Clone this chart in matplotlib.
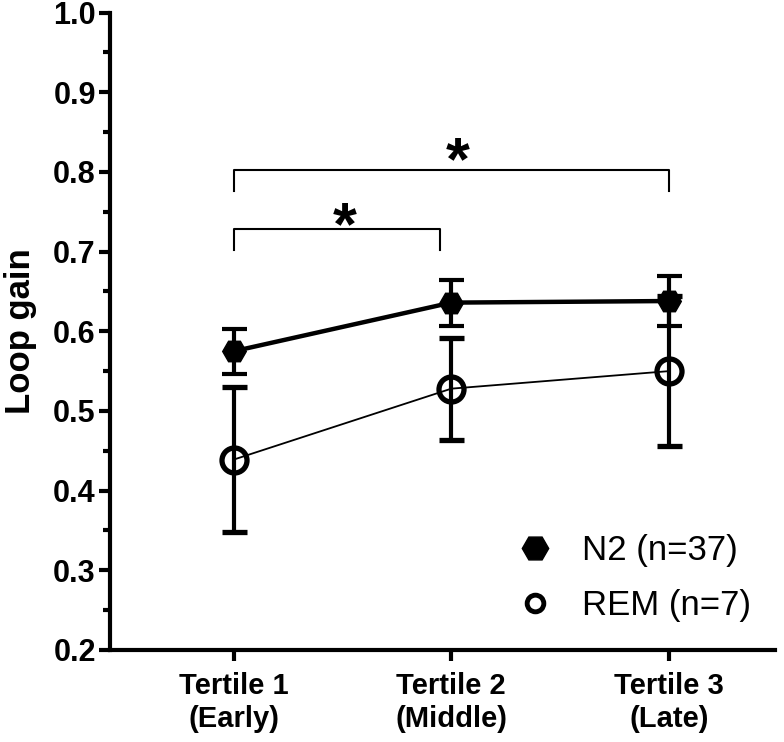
"""Loop gain across sleep tertiles, N2 vs REM."""
import numpy as np
import matplotlib.pyplot as plt
import matplotlib as mpl
from matplotlib.lines import Line2D

# data
tertiles = ['Tertile 1\n(Early)', 'Tertile 2\n(Middle)', 'Tertile 3\n(Late)']
n2_mean = [0.575, 0.636, 0.638]
n2_err = [0.028, 0.029, 0.031]
rem_mean = [0.439, 0.528, 0.550]
rem_err = [0.091, 0.064, 0.094]
n2_label = 'N2 (n=37)'
rem_label = 'REM (n=7)'

mpl.rcParams.update({
    'font.family': ['Liberation Sans', 'DejaVu Sans'],
    'axes.linewidth': 3.0,
    'axes.spines.right': False,
    'axes.spines.top': False,
})

fig = plt.figure(figsize=(7.84, 7.42), dpi=100)
ax = fig.add_axes([0.140, 0.124, 0.849, 0.859])

x = np.arange(len(tertiles))

ax.errorbar(x, n2_mean, yerr=n2_err, color='black', lw=3.2,
            elinewidth=3, capsize=9, capthick=3,
            marker='H', ms=17, mfc='black', mec='black', zorder=4)
ax.errorbar(x, rem_mean, yerr=rem_err, color='black', lw=1.3,
            elinewidth=3, capsize=9, capthick=3,
            marker='o', ms=18, mfc='none', mec='black', mew=3.8, zorder=3)

# significance brackets
def bracket(x0, x1, y, drop, label_x, label_y):
    ax.plot([x0, x0, x1, x1], [y - drop, y, y, y - drop],
            color='black', lw=1.5, clip_on=False)
    ax.text(label_x, label_y, '*', ha='center', va='center',
            fontsize=44, fontweight='bold')

bracket(0, 0.95, 0.729, 0.027, 0.51, 0.729)
bracket(0, 2.0, 0.802, 0.026, 1.03, 0.811)

ax.set_xlim(-0.57, 2.49)
ax.set_ylim(0.2, 1.0)
ax.set_yticks(np.arange(0.2, 1.01, 0.1))
ax.set_yticks(np.arange(0.25, 1.0, 0.1), minor=True)
ax.set_yticklabels([f'{v:.1f}' for v in np.arange(0.2, 1.01, 0.1)],
                   fontsize=22, fontweight='bold')
ax.set_xticks(x)
ax.set_xticklabels(tertiles, fontsize=21, fontweight='bold', linespacing=1.2)
ax.tick_params(axis='both', which='major', length=8, width=3)
ax.tick_params(axis='y', which='major', pad=2)
ax.tick_params(axis='x', which='major', pad=8)
ax.tick_params(axis='y', which='minor', length=5, width=3)
ax.set_ylabel('Loop gain', fontsize=25, fontweight='bold')
ax.yaxis.set_label_coords(-0.11, 0.5)

handles = [
    Line2D([], [], ls='none', marker='H', ms=19, mfc='black', mec='black'),
    Line2D([], [], ls='none', marker='o', ms=12, mfc='none', mec='black', mew=3.5),
]
ax.legend(handles, [n2_label, rem_label], loc='center left',
          bbox_to_anchor=(0.613, 0.113), borderaxespad=0, borderpad=0,
          frameon=False, fontsize=25, handlelength=1.0,
          handletextpad=0.86, labelspacing=0.65)

fig.savefig('out.png', dpi=100)
